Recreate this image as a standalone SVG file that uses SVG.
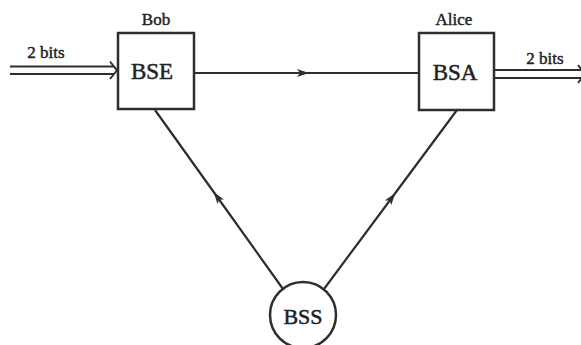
<svg xmlns="http://www.w3.org/2000/svg" width="581" height="345" viewBox="0 0 581 345">
  <style>
    .box { fill: #fff; stroke: #2e2e2e; stroke-width: 2.5; }
    .wire { fill: none; stroke: #2e2e2e; stroke-width: 2.2; }
    .dbl { fill: none; stroke: #2e2e2e; stroke-width: 1.9; }
    .name { font-family: "Liberation Serif", "Times New Roman", serif; font-size: 17px; fill: #222; stroke: #222; stroke-width: 0.45; text-anchor: middle; }
    .big { font-family: "Liberation Serif", "Times New Roman", serif; font-size: 23px; fill: #222; stroke: #222; stroke-width: 0.5; text-anchor: middle; }
  </style>
  <defs>
    <marker id="arr" viewBox="0 0 12 8" refX="11" refY="4" markerWidth="12" markerHeight="8" markerUnits="userSpaceOnUse" orient="auto">
      <path d="M0,0 L12,4 L0,8 L3,4 Z" fill="#2e2e2e"/>
    </marker>
  </defs>

  <!-- connectors -->
  <g id="connectors">
    <!-- BSE to BSA -->
    <polyline class="wire" points="194,73 308,73 419,73" marker-mid="url(#arr)"/>
    <!-- BSS to BSE -->
    <polyline class="wire" points="283,289 214.4,193 155,110" marker-mid="url(#arr)"/>
    <!-- BSS to BSA -->
    <polyline class="wire" points="324,289 394.6,194 457,110" marker-mid="url(#arr)"/>
    <!-- incoming 2 bits -->
    <line class="dbl" x1="10" y1="66.5" x2="114" y2="66.5"/>
    <line class="dbl" x1="10" y1="74" x2="114" y2="74"/>
    <polyline class="dbl" points="110,61.5 117,70.3 110,79"/>
    <text class="name" x="46" y="58">2 bits</text>
    <!-- outgoing 2 bits -->
    <line class="dbl" x1="494" y1="70" x2="584" y2="70"/>
    <line class="dbl" x1="494" y1="78" x2="584" y2="78"/>
    <polyline class="dbl" points="578,65 585,74 578,83"/>
    <text class="name" x="545" y="64">2 bits</text>
  </g>

  <g id="bse">
    <rect class="box" x="118" y="33" width="76" height="76"/>
    <text class="name" x="156" y="25">Bob</text>
    <text class="big" x="152" y="79">BSE</text>
  </g>

  <g id="bsa">
    <rect class="box" x="419" y="33" width="75" height="77"/>
    <text class="name" x="454" y="25">Alice</text>
    <text class="big" x="455" y="80">BSA</text>
  </g>

  <g id="bss">
    <circle class="box" cx="303" cy="315" r="33"/>
    <text class="big" x="303" y="324" style="font-size:22px">BSS</text>
  </g>
</svg>
